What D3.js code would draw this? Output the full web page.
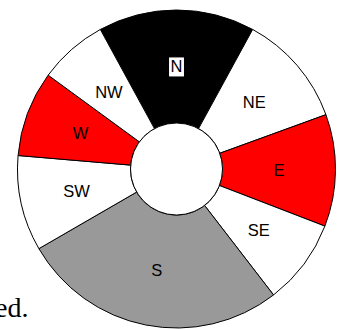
<!DOCTYPE html>
<meta charset="utf-8">
<style>
body {
  margin: 0;
  background-color: #fff;
  overflow: hidden;
}
.slice {
  stroke: #000;
  stroke-width: 1px;
}
.label {
  font-family: "Liberation Sans", Arial, sans-serif;
  font-size: 16.5px;
  text-anchor: middle;
  fill: #000;
}
.note {
  font-family: "Liberation Serif", "Times New Roman", serif;
  font-size: 28px;
  fill: #000;
}
</style>
<svg width="338" height="329"></svg>
<script src="https://d3js.org/d3.v7.min.js"></script>
<script>
var directions = ["N", "NE", "E", "SE", "S", "SW", "W", "NW"];
var shares = [15.9, 11.5, 11.4, 8.7, 27.1, 9.7, 8.7, 7.0];
var colors = ["#000000", "#ffffff", "#ff0000", "#ffffff", "#999999", "#ffffff", "#ff0000", "#ffffff"];

var svg = d3.select("svg"),
    cx = 176.5,
    cy = 169,
    outer = 159,
    inner = 46;

// fragment of the surrounding text, cut at the left edge
svg.append("text")
    .attr("class", "note")
    .attr("x", -5)
    .attr("y", 317)
    .text("ed.");

var total = d3.sum(shares);
var start = -Math.PI * shares[0] / total;

var pie = d3.pie()
    .sort(null)
    .value(function(d) { return d; })
    .startAngle(start)
    .endAngle(start + 2 * Math.PI);

var arc = d3.arc().innerRadius(inner).outerRadius(outer);

var g = svg.append("g")
    .attr("transform", "translate(" + cx + "," + cy + ")");

var arcs = pie(shares);

g.selectAll(".slice")
    .data(arcs)
  .enter().append("path")
    .attr("class", "slice")
    .attr("d", arc)
    .attr("fill", function(d, i) { return colors[i]; });

g.append("circle")
    .attr("r", inner)
    .attr("fill", "#fff")
    .attr("stroke", "#000")
    .attr("stroke-width", 1);

var labels = g.selectAll(".lbl")
    .data(arcs)
  .enter().append("g")
    .attr("class", "lbl")
    .attr("transform", function(d) { return "translate(" + arc.centroid(d) + ")"; });

labels.append("text")
    .attr("class", "label")
    .attr("dy", "0.36em")
    .text(function(d, i) { return directions[i]; });

// white box behind the label on the black slice
labels.filter(function(d, i) { return colors[i] === "#000000"; })
    .each(function() {
      var t = d3.select(this).select("text");
      var b = t.node().getBBox();
      d3.select(this).insert("rect", "text")
          .attr("x", b.x - 1.5)
          .attr("y", b.y)
          .attr("width", b.width + 3)
          .attr("height", b.height + 1)
          .attr("fill", "#fff");
    });
</script>
